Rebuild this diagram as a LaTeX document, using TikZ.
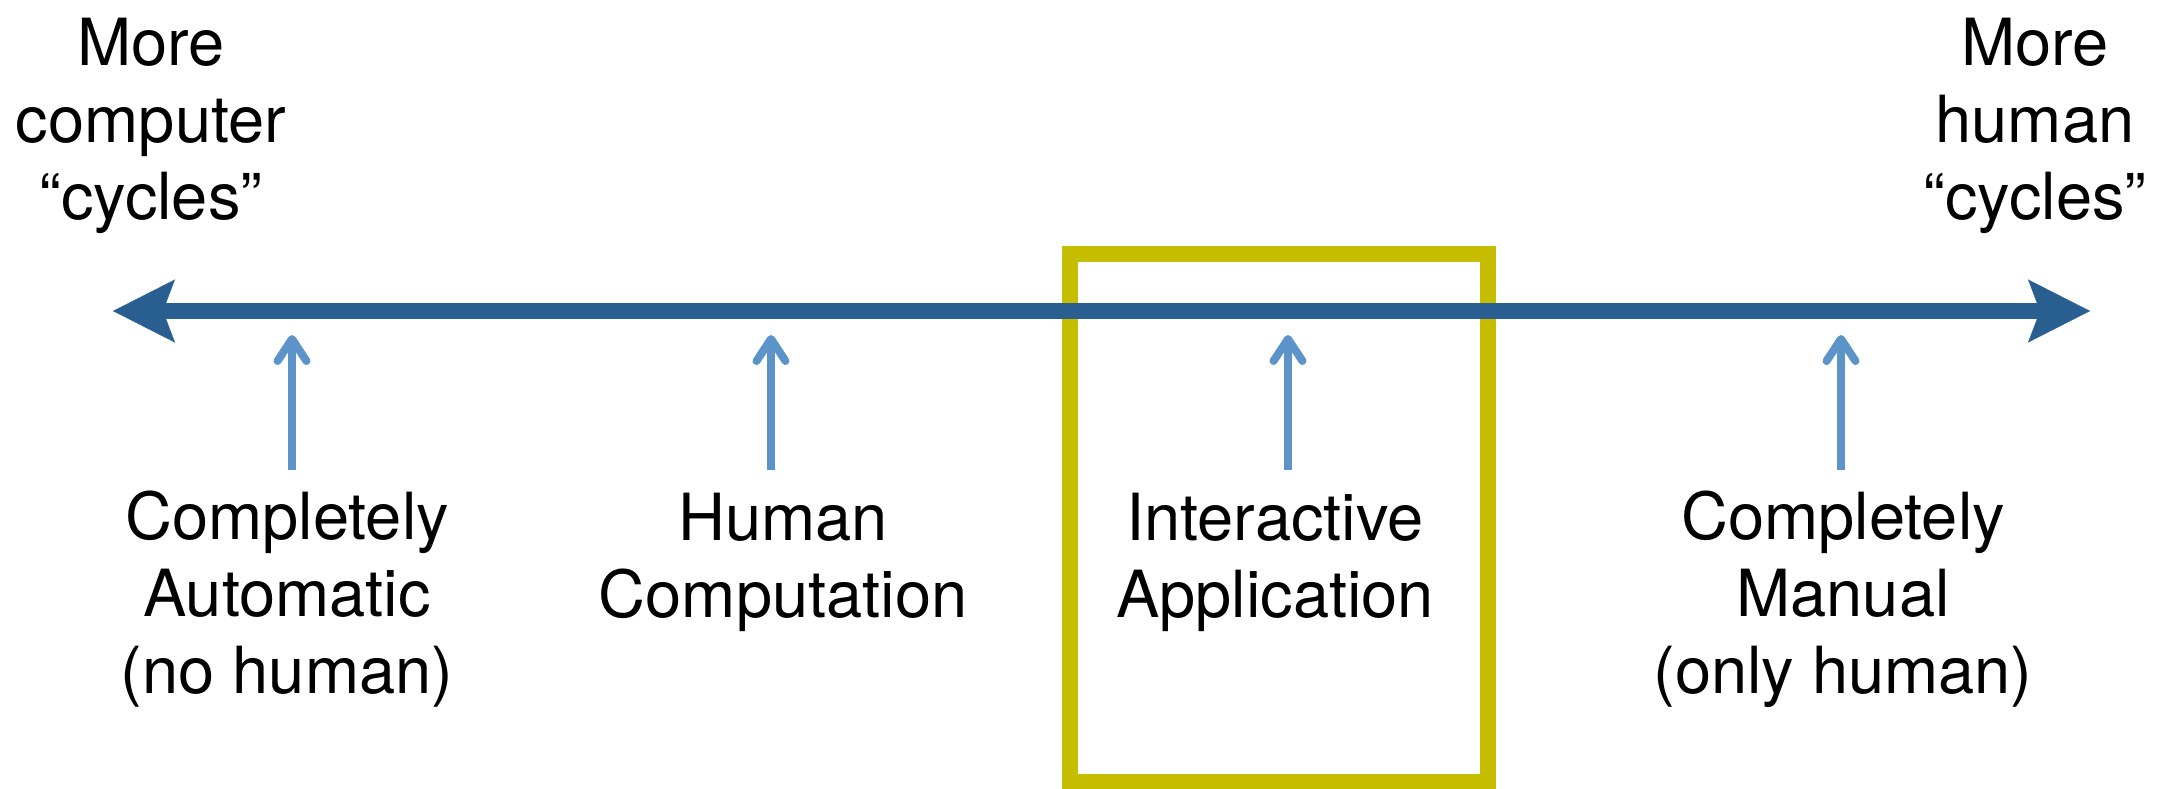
\documentclass[tikz,border=0pt]{standalone}
\usepackage{fontspec}
\setmainfont{TeX Gyre Heros}
\usetikzlibrary{arrows.meta}
\definecolor{axisblue}{RGB}{41,94,145}
\definecolor{tickblue}{RGB}{92,148,202}
\definecolor{boxyellow}{RGB}{197,190,0}
\tikzset{
  lbl/.style={align=center, inner sep=0pt, anchor=base, font=\fontsize{32.5}{38.5}\selectfont},
  axisarrow/.style={draw=axisblue, line width=8pt,
    {Stealth[length=31pt,width=31.5pt,inset=6pt,line width=0.1pt]}-{Stealth[length=31pt,width=31.5pt,inset=6pt,line width=0.1pt]}},
  tickarrow/.style={draw=tickblue, line width=4pt, -{Straight Barb[length=11pt,width=14.5pt,round]}},
  focusbox/.style={draw=boxyellow, line width=8pt}
}
\begin{document}
\begin{tikzpicture}[x=0.5pt,y=-0.5pt]
\useasboundingbox (0,0) rectangle (2162,788);
% focus box
\draw[focusbox] (1070,254) rectangle (1488,782);
% axis
\coordinate (L) at (113,311);
\coordinate (R) at (2090,311);
\draw[axisarrow] (L) -- (R);
% tick arrows
\foreach \n/\x in {a/292,b/771,c/1288,d/1841}{
  \coordinate (\n bot) at (\x,470);
  \coordinate (\n top) at (\x,335);
  \draw[tickarrow] (\n bot) -- (\n top);
}
% labels (anchor = baseline of last line)
\node[lbl] (left) at (151,219) {More\\computer\\“cycles”};
\node[lbl] (right) at (2035,219) {More\\human\\“cycles”};
\node[lbl] (auto) at (287,693) {Completely\\Automatic\\(no human)};
\node[lbl] (hc) at (783,617) {Human\\Computation};
\node[lbl] (ia) at (1275,617) {Interactive\\Application};
\node[lbl] (man) at (1843,693) {Completely\\Manual\\(only human)};
\end{tikzpicture}
\end{document}
